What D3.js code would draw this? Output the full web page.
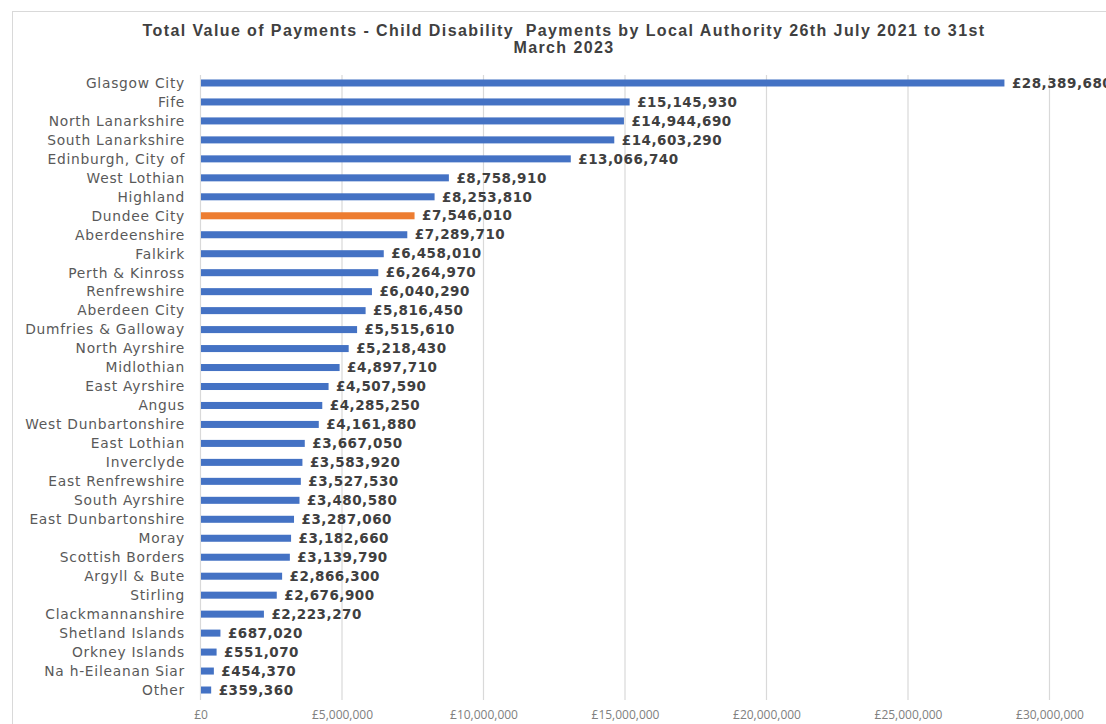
<!DOCTYPE html>
<html><head><meta charset="utf-8">
<script src="https://cdn.jsdelivr.net/npm/d3@7"></script>
<style>body{margin:0;background:#fff;}</style>
</head><body>
<svg id="chart" width="1106" height="724"></svg>
<script>
const categories = ["Glasgow City","Fife","North Lanarkshire","South Lanarkshire","Edinburgh, City of","West Lothian","Highland","Dundee City","Aberdeenshire","Falkirk","Perth & Kinross","Renfrewshire","Aberdeen City","Dumfries & Galloway","North Ayrshire","Midlothian","East Ayrshire","Angus","West Dunbartonshire","East Lothian","Inverclyde","East Renfrewshire","South Ayrshire","East Dunbartonshire","Moray","Scottish Borders","Argyll & Bute","Stirling","Clackmannanshire","Shetland Islands","Orkney Islands","Na h-Eileanan Siar","Other"];
const values = [28389680,15145930,14944690,14603290,13066740,8758910,8253810,7546010,7289710,6458010,6264970,6040290,5816450,5515610,5218430,4897710,4507590,4285250,4161880,3667050,3583920,3527530,3480580,3287060,3182660,3139790,2866300,2676900,2223270,687020,551070,454370,359360];
const highlighted = ["Dundee City"];
const tickValues = [0,5000000,10000000,15000000,20000000,25000000,30000000];
const titleLines = ["Total Value of Payments - Child Disability  Payments by Local Authority 26th July 2021 to 31st","March 2023"];

const svg = d3.select("#chart");
svg.append("rect").attr("x",12.5).attr("y",11.5).attr("width",1100).attr("height",720)
  .attr("fill","none").attr("stroke","#d9d9d9").attr("stroke-width",1);

const x = d3.scaleLinear().domain([0,30000000]).range([200.5,1049.5]);
const y = d3.scaleBand().domain(categories).range([73.5,699.5]).paddingInner(0.63).paddingOuter(0.315);

svg.append("g").selectAll("line").data(tickValues).join("line")
  .attr("x1",d=>x(d)).attr("x2",d=>x(d)).attr("y1",75).attr("y2",700)
  .attr("stroke","#d9d9d9").attr("stroke-width",1.2);

svg.append("g").selectAll("text").data(titleLines).join("text")
  .attr("x",564).attr("y",(d,i)=>36+i*17).attr("text-anchor","middle")
  .attr("font-family","Liberation Sans, Arial, sans-serif").attr("font-weight","bold")
  .attr("font-size",16).attr("letter-spacing",1.4).attr("fill","#404040")
  .style("white-space","pre").text(d=>d);

svg.append("g").selectAll("rect").data(categories).join("rect")
  .attr("x",x(0)+0.5).attr("y",d=>y(d)).attr("height",y.bandwidth())
  .attr("width",(d,i)=>x(values[i])-x(0))
  .attr("fill",d=>highlighted.includes(d)?"#ED7D31":"#4472C4");

svg.append("g").selectAll("text").data(categories).join("text")
  .attr("x",185).attr("y",d=>y(d)+y.bandwidth()/2).attr("dy","0.35em")
  .attr("text-anchor","end").attr("font-family","DejaVu Sans, Verdana, sans-serif")
  .attr("font-size",13.8).attr("letter-spacing",0.75).attr("fill","#595959").text(d=>d);

const fmt = d3.format(",");
svg.append("g").selectAll("text").data(categories).join("text")
  .attr("x",(d,i)=>x(values[i])+8).attr("y",d=>y(d)+y.bandwidth()/2).attr("dy","0.35em")
  .attr("font-family","DejaVu Sans, Verdana, sans-serif").attr("font-weight","bold")
  .attr("font-size",13.5).attr("letter-spacing",0.5).attr("fill","#404040").text((d,i)=>"£"+fmt(values[i]));

const axis = d3.axisBottom(x).tickValues(tickValues).tickSize(0).tickPadding(0)
  .tickFormat(d=>"£"+fmt(d));
const ax = svg.append("g").attr("transform","translate(0,711)").call(axis);
ax.select(".domain").remove();
ax.selectAll("text").attr("font-family","Open Sans, sans-serif").attr("font-size",12)
  .attr("fill","#808080").attr("dy","0.7em");
</script>
</body></html>
